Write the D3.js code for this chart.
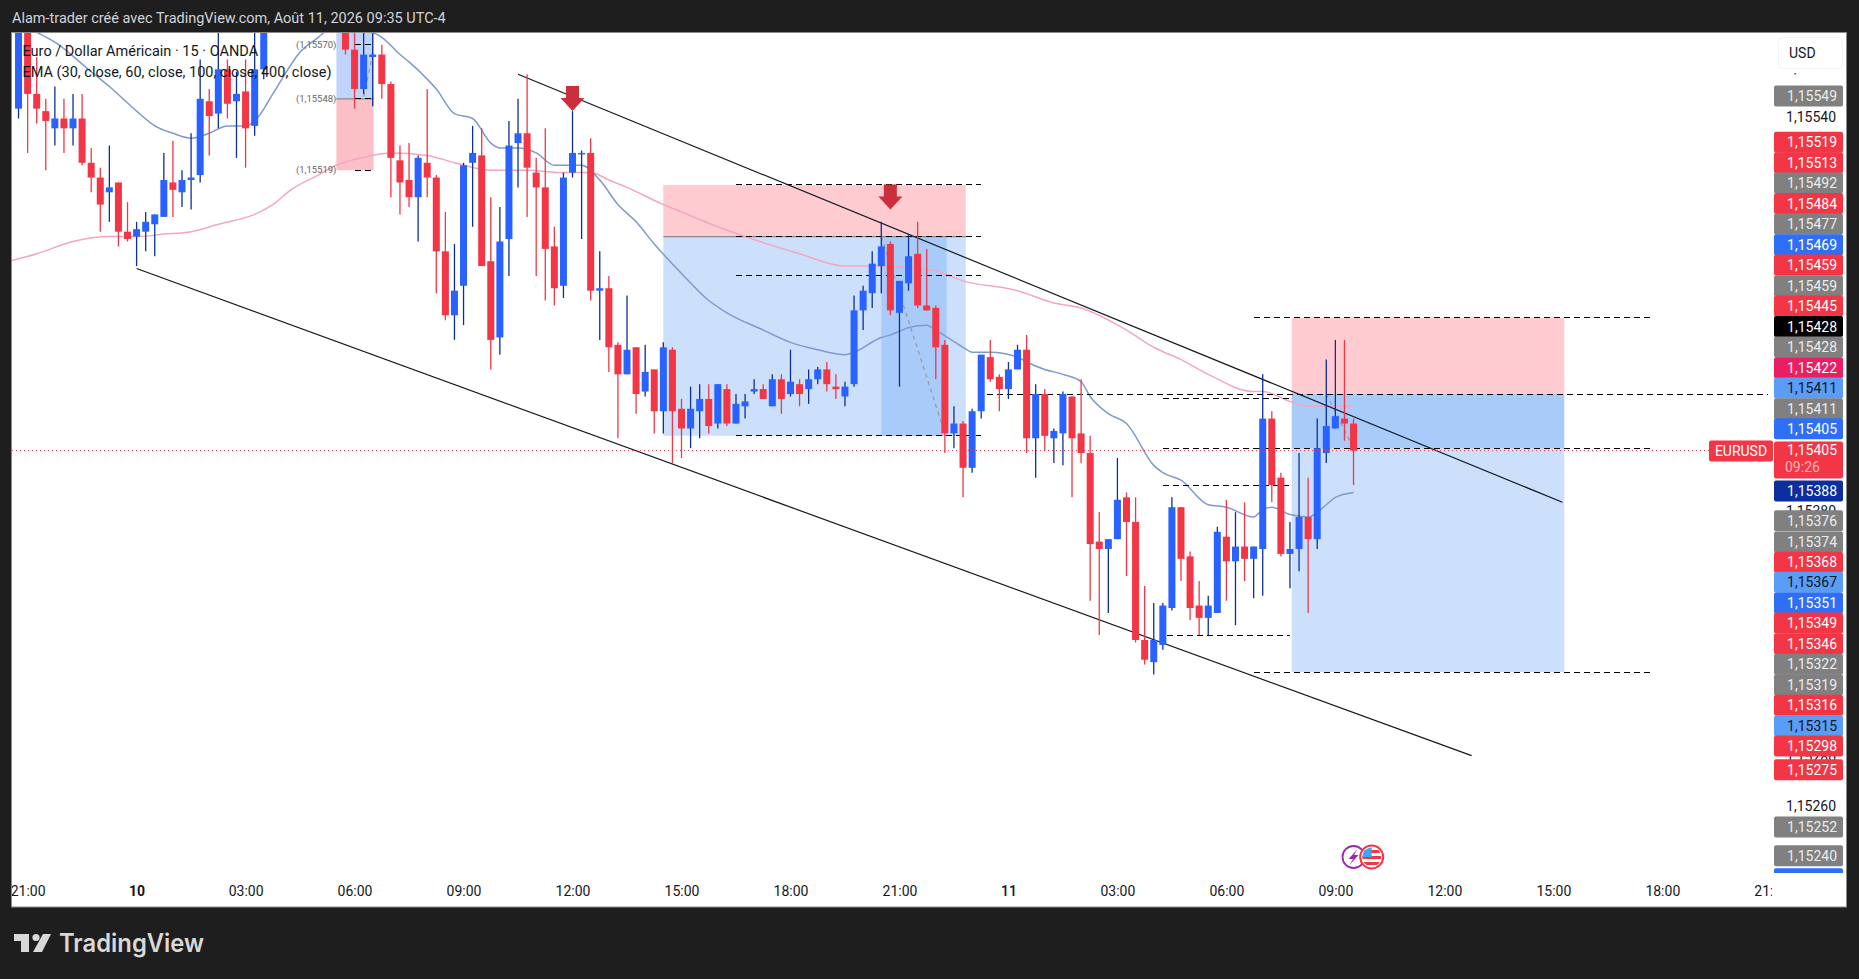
<!DOCTYPE html>
<html>
<head>
<meta charset="utf-8">
<script src="https://cdn.jsdelivr.net/npm/d3@7"></script>
<style>
  html, body { margin: 0; padding: 0; background: #1e1e1e; }
  svg { display: block; font-family: Roboto, sans-serif; }
</style>
</head>
<body>
<svg id="chart" width="1859" height="979"></svg>
<script>
// prices are kept in points: 115405 is 1,15405
const firstBar = -13;
const barOpen = [
  115544,115578,115550,115543,115536,115540,115536,115540,115522,115516,115510,115514,115494,
  115492,115494,115497,115500,115514,115510,115515,115517,115547,115542,115560,115547,115551,115537,115560,
  null,null,null,null,null,null,null,null,
  115580,115568,115552,115565,115566,115554,115523,115515,115508,115522,115516,115486,115460,115472,115522,115525,115482,115451,115491,115530,115534,115518,115512,115488,115472,115518,115526,115526,115470,115471,115448,
  115436,115447,115429,115438,115421,115446,115422,115414,115421,115426,115416,115430,115416,115423,115429,115430,115423,115434,115428,115432,115430,115434,115438,115431,115427,115432,115462,115469,115480,115489,115461,115473,115485,115464,115463,115448,115412,115416,115398,115421,115443,115435,115430,115438,
  115446,115410,115428,115410,115412,115427,115412,115404,115368,115365,115369,115386,115376,115328,115319,115326,115341,115382,115362,115342,115337,115339,115370,115360,115366,115361,115365,115418,115394,115363,115365,115378,115369,115404,115414,115418,115416
];
const barHigh = [
  115586,115582,115565,115548,115553,115548,115550,115550,115528,115520,115529,115514,115506,
  115498,115502,115501,115526,115531,115519,115534,115564,115552,115578,115564,115559,115564,115580,115586,
  null,null,null,null,null,null,null,null,
  115586,115580,115580,115580,115570,115555,115529,115530,115525,115552,115517,115502,115489,115522,115537,115536,115508,115504,115539,115548,115558,115524,115536,115496,115518,115543,115527,115532,115486,115476,115449,
  115468,115447,115448,115438,115449,115447,115426,115431,115432,115432,115432,115432,115428,115428,115434,115432,115436,115436,115446,115434,115438,115439,115441,115436,115433,115468,115472,115486,115498,115490,115474,115493,115498,115487,115464,115450,115423,115417,115422,115444,115450,115436,115441,115448,
  115452,115432,115430,115414,115429,115427,115434,115411,115380,115369,115402,115388,115386,115350,115343,115343,115386,115382,115364,115352,115346,115374,115385,115380,115384,115366,115436,115421,115396,115376,115404,115394,115418,115442,115450,115450,115418
];
const barLow = [
  115540,115526,115538,115519,115529,115526,115529,115521,115510,115494,115498,115488,115490,
  115480,115486,115484,115500,115500,115504,115503,115514,115525,115536,115540,115524,115520,115533,115556,
  null,null,null,null,null,null,null,null,
  115566,115544,115550,115545,115548,115508,115501,115504,115490,115508,115469,115458,115450,115456,115496,115480,115438,115444,115476,115512,115500,115476,115466,115464,115467,115516,115491,115466,115450,115437,115410,
  115436,115420,115427,115412,115412,115400,115402,115406,115410,115412,115414,115415,115416,115418,115428,115426,115423,115420,115427,115423,115424,115432,115429,115426,115423,115431,115454,115463,115469,115460,115431,115470,115463,115462,115434,115404,115406,115386,115396,115418,115433,115421,115426,115438,
  115404,115394,115405,115400,115399,115386,115400,115344,115330,115339,115369,115354,115327,115318,115314,115324,115340,115352,115336,115330,115330,115339,115344,115334,115352,115345,115346,115384,115362,115349,115356,115339,115365,115400,115414,115409,115391
];
const barClose = [
  115580,115550,115544,115539,115540,115536,115540,115522,115516,115505,115512,115494,115491,
  115495,115498,115501,115515,115511,115515,115516,115548,115541,115560,115546,115550,115536,115560,115580,
  null,null,null,null,null,null,null,null,
  115568,115552,115566,115566,115554,115524,115514,115508,115524,115516,115486,115460,115470,115521,115526,115480,115450,115490,115529,115534,115520,115512,115487,115471,115516,115526,115526,115470,115471,115447,115436,
  115446,115428,115437,115421,115447,115421,115414,115422,115426,115415,115432,115416,115424,115425,115430,115426,115434,115426,115433,115428,115434,115438,115432,115430,115431,115462,115470,115481,115488,115462,115474,115484,115464,115462,115447,115412,115416,115398,115421,115444,115434,115430,115438,115446,
  115410,115428,115411,115413,115428,115410,115404,115367,115365,115369,115385,115376,115328,115320,115328,115342,115382,115361,115341,115337,115342,115372,115360,115366,115361,115366,115418,115391,115363,115365,115378,115369,115406,115415,115419,115416,115405
];

const blueEmaBars = [-11,-9,-5,-3,0,2,4,6,8,10,12,13,15,16,18,20,21,22,25,26,27,29,30,32,33,35,37,39,40,42,44,46,49,51,53,55,57,60,63,65,69,72,75,78,79,82,83,85,87,88,91,92,94,97,98,100,102,104,105,107,109,112,113,115,118,120,123,124,125,127,129,131,132,134];
const blueEmaValues = [115575,115571,115559,115553,115543,115537,115534,115532,115534,115537,115537,115539,115550,115556,115567,115573,115576,115578,115577,115575,115573,115566,115563,115556,115552,115542,115540,115530,115528,115528,115526,115521,115521,115515,115505,115498,115489,115477,115466,115461,115454,115449,115446,115444,115445,115451,115452,115455,115456,115454,115447,115445,115445,115443,115441,115438,115436,115433,115427,115420,115416,115399,115396,115393,115383,115382,115378,115381,115382,115379,115378,115383,115386,115388];
const pinkEmaBars = [-14,-11,-7,-3,0,3,6,9,13,15,17,20,22,26,28,32,35,39,43,47,50,52,54,58,60,64,67,73,78,82,86,88,91,97,101,104,109,112,115,118,123,124,127,129,134];
const pinkEmaValues = [115482,115485,115490,115492,115492,115493,115494,115497,115501,115505,115511,115517,115521,115525,115526,115525,115522,115519,115519,115518,115518,115515,115512,115505,115502,115496,115492,115485,115480,115480,115479,115478,115474,115470,115465,115463,115454,115447,115442,115436,115429,115429,115425,115423,115423];

const timeBars = [-12,0,12,24,36,48,60,72,84,96,108,120,132,144,156,168,180];
const timeLabels = ["21:00","10","03:00","06:00","09:00","12:00","15:00","18:00","21:00","11","03:00","06:00","09:00","12:00","15:00","18:00","21:00"];
const priceTicks = [115560,115540,115380,115280,115260];

const tagPrices = ["1,15549","1,15519","1,15513","1,15492","1,15484","1,15477","1,15469","1,15459","1,15459","1,15445","1,15428","1,15428","1,15422","1,15411","1,15411","1,15405","1,15405","1,15388","1,15376","1,15374","1,15368","1,15367","1,15351","1,15349","1,15346","1,15322","1,15319","1,15316","1,15315","1,15298","1,15275","1,15252","1,15240","1,15209"];
const tagKinds = ["gray","red","red","gray","red","gray","blue","red","gray","red","black","gray","pink","light","gray","blue","last","navy","gray","gray","red","light","blue","red","red","gray","gray","red","light","red","red","gray","gray","blue"];
// the tags are stacked by the app so they don't sit on their real price, this is where they end up, in points
const tagStack = [115549.1,115530.3,115522,115513.8,115505.4,115497.1,115488.7,115480.4,115472,115463.8,115455.4,115447.1,115438.7,115430.4,115422,115413.9,115405.2,115388.6,115376.5,115367.8,115359.6,115351.5,115343,115334.9,115326.5,115318.1,115309.8,115301.5,115293.2,115284.9,115275.3,115252,115240.3,115231];

const zoneBars = [22,26.1, 58,91.3, 127.2,157.2];
const zonePrices = [115548,115519, 115492,115513,115411, 115428,115459,115315];
const hitStartBars = [82,127.2];
const hitEndBars = [89.2,157.2];
const hitEndPrices = [115411,115406];

const levelPrices = [115570,115548,115519,115513,115492,115476,115411,115428,115426,115406,115406,115391,115330,115459,115315];
const levelFrom = [24,24,24,66,66,66,66,93.6,113,113,123,113,113.5,123,123];
const levelTo = [26.1,26.1,26.1,93,93,93,93,179.6,127,127,167,127,127,167,167];

const trendBars = [[42,157],[0,147]];
const trendPrices = [[115558,115384],[115479,115281]];
const pathBars = [[25,26],[82,89],[131,134]];
const pathPrices = [[115549,115566],[115492,115412],[115428,115406]];
const arrowBars = [48,83];
const arrowPrices = [115543,115503];
const fibLabels = ["(1,15570)","(1,15548)","(1,15519)"];
const fibPrices = [115570,115548,115519];

const svg = d3.select("#chart");
const x = d3.scaleLinear().domain([0,120]).range([136.6,1226.4]);
const y = d3.scaleLinear().domain([115260,115540]).range([807.3,118.5]);

const blue = "#2962ff", red = "#f23645", navy = "#0b2f9c";

const defs = svg.append("defs");
defs.append("clipPath").attr("id","plot").append("rect").attr("x",12).attr("y",33).attr("width",1762).attr("height",840);
defs.append("clipPath").attr("id","tags").append("rect").attr("x",1700).attr("y",33).attr("width",145).attr("height",840);
defs.append("clipPath").attr("id","times").append("rect").attr("x",12).attr("y",870).attr("width",1760).attr("height",36);

svg.append("rect").attr("x",11.5).attr("y",32.5).attr("width",1835).attr("height",874.5)
  .attr("fill","#fff").attr("stroke","#8a8a8a");

svg.append("text").attr("x",12).attr("y",23).attr("fill","#d1d4dc").attr("font-size",14.5)
  .text("Alam-trader créé avec TradingView.com, Août 11, 2026 09:35 UTC-4");

const plot = svg.append("g").attr("clip-path","url(#plot)");

// position tools
function zone(b0,b1,top,bottom,color) {
  plot.append("rect").attr("x",x(b0)).attr("width",x(b1)-x(b0))
    .attr("y",y(top)).attr("height",y(bottom)-y(top)).attr("fill",color);
}
zone(zoneBars[0],zoneBars[1],115600,zonePrices[0],"#bfd3fb");
zone(zoneBars[0],zoneBars[1],zonePrices[0],zonePrices[1],"#fbc0c6");
zone(zoneBars[2],zoneBars[3],zonePrices[3],zonePrices[2],"#fdcbd0");
zone(zoneBars[2],zoneBars[3],zonePrices[2],zonePrices[4],"#cce0fc");
zone(zoneBars[4],zoneBars[5],zonePrices[6],zonePrices[5],"#fdcbd0");
zone(zoneBars[4],zoneBars[5],zonePrices[5],zonePrices[7],"#cce0fc");
zone(hitStartBars[0],hitEndBars[0],zonePrices[2],hitEndPrices[0],"#a9cbfa");
zone(hitStartBars[1],hitEndBars[1],zonePrices[5],hitEndPrices[1],"#a9cbfa");
[[zoneBars[0],zoneBars[1],zonePrices[0]],[zoneBars[2],zoneBars[3],zonePrices[2]]].forEach(d => {
  plot.append("line").attr("x1",x(d[0])).attr("x2",x(d[1])).attr("y1",y(d[2])).attr("y2",y(d[2]))
    .attr("stroke","#888").attr("stroke-width",1.2);
});

// EMAs
const emaLine = d3.line().x(d => x(d[0])).y(d => y(d[1])).curve(d3.curveMonotoneX);
plot.append("path").attr("d",emaLine(d3.zip(pinkEmaBars,pinkEmaValues)))
  .attr("fill","none").attr("stroke","#f3a6c2").attr("stroke-width",1.5);
plot.append("path").attr("d",emaLine(d3.zip(blueEmaBars,blueEmaValues)))
  .attr("fill","none").attr("stroke","#7f99cf").attr("stroke-width",1.5);

// dashed levels
plot.selectAll(".level").data(levelPrices).enter().append("line").attr("class","level")
  .attr("x1",(d,k) => x(levelFrom[k])).attr("x2",(d,k) => x(levelTo[k]))
  .attr("y1",d => y(d)).attr("y2",d => y(d))
  .attr("stroke","#000").attr("stroke-width",1).attr("stroke-dasharray","6 4")
  .attr("shape-rendering","crispEdges");

// gray projected paths
pathBars.forEach((b,k) => {
  plot.append("line").attr("x1",x(b[0])).attr("x2",x(b[1]))
    .attr("y1",y(pathPrices[k][0])).attr("y2",y(pathPrices[k][1]))
    .attr("stroke","#9a9a9a").attr("stroke-width",1.3).attr("stroke-dasharray","4 4");
});

// channel
trendBars.forEach((b,k) => {
  plot.append("line").attr("x1",x(b[0])).attr("x2",x(b[1]))
    .attr("y1",y(trendPrices[k][0])).attr("y2",y(trendPrices[k][1]))
    .attr("stroke","#131722").attr("stroke-width",1.2);
});

// candles
const bars = barOpen.map((o,k) => ({ i: firstBar+k, o, h: barHigh[k], l: barLow[k], c: barClose[k] }))
  .filter(d => d.o !== null);
const candle = plot.selectAll(".bar").data(bars).enter().append("g").attr("class","bar");
candle.append("line")
  .attr("x1",d => x(d.i)).attr("x2",d => x(d.i))
  .attr("y1",d => y(d.h)).attr("y2",d => y(d.l))
  .attr("stroke",d => d.c >= d.o ? navy : red).attr("stroke-width",1.3);
candle.append("rect")
  .attr("x",d => x(d.i)-3.5).attr("width",7)
  .attr("y",d => y(Math.max(d.o,d.c)))
  .attr("height",d => Math.max(1.5,Math.abs(y(d.o)-y(d.c))))
  .attr("fill",d => d.c >= d.o ? blue : red);

// down arrows
arrowBars.forEach((b,k) => {
  plot.append("path")
    .attr("transform",`translate(${x(b)},${y(arrowPrices[k])})`)
    .attr("d","M0 0L-12 -13L-6.5 -13L-6.5 -25L6.5 -25L6.5 -13L12 -13Z")
    .attr("fill","#cc2f3c");
});

// small labels of the first tool
plot.selectAll(".fib").data(fibPrices).enter().append("text").attr("class","fib")
  .attr("x",x(22)).attr("y",d => y(d)+3).attr("text-anchor","end")
  .attr("font-size",9.5).attr("fill","#666")
  .text((d,k) => fibLabels[k]);

// current price line
plot.append("line").attr("x1",12).attr("x2",1709).attr("y1",y(115405)).attr("y2",y(115405))
  .attr("stroke",red).attr("stroke-width",1).attr("stroke-dasharray","1 3");

// legend
svg.append("text").attr("x",22.5).attr("y",56).attr("font-size",14.5).attr("fill","#131722")
  .text("Euro / Dollar Américain · 15 · OANDA");
svg.append("text").attr("x",22.5).attr("y",77).attr("font-size",14.5).attr("fill","#131722")
  .text("EMA (30, close, 60, close, 100, close, 400, close)");

// time axis
const timeAxis = d3.axisBottom(x).tickValues(timeBars).tickSize(0).tickPadding(0)
  .tickFormat(d => timeLabels[timeBars.indexOf(d)]);
const tg = svg.append("g").attr("clip-path","url(#times)").append("g")
  .attr("transform","translate(0,886)").call(timeAxis);
tg.select(".domain").remove();
tg.selectAll("text").attr("font-size",14).attr("font-family","Roboto").attr("fill","#131722")
  .attr("font-weight",d => d === 0 ? 700 : d === 96 ? 500 : 400);

// price axis
const priceAxis = d3.axisRight(y).tickValues(priceTicks).tickSize(0).tickPadding(0)
  .tickFormat(d => "1," + String(d).slice(1));
const pg = svg.append("g").attr("transform","translate(1836,0)").call(priceAxis);
pg.select(".domain").remove();
pg.selectAll("text").attr("font-size",14).attr("font-family","Roboto").attr("fill","#131722")
  .attr("text-anchor","end").attr("dy","0.22em");

// USD button, the white under it hides the tick behind except the comma tail
svg.append("rect").attr("x",1778).attr("y",37).attr("width",65).attr("height",36).attr("fill","#fff");
svg.append("rect").attr("x",1778.5).attr("y",37.5).attr("width",64).attr("height",31).attr("rx",4)
  .attr("fill","#fff").attr("stroke","#f0f3fa");
svg.append("text").attr("x",1789).attr("y",58).attr("font-size",14).attr("fill","#131722").text("USD");

// price tags
const tagColor = { gray:"#808080", red:red, blue:"#2f6ff5", black:"#000", pink:"#e91e63", light:"#5b9cf6", navy:"#0b2f9c", last:red };
const tagG = svg.append("g").attr("clip-path","url(#tags)");
tagPrices.forEach((t,k) => {
  const kind = tagKinds[k], cy = y(tagStack[k]);
  const last = kind === "last";
  tagG.append("rect").attr("x",1774).attr("y",cy-(last ? 8.5 : 10.5)).attr("width",69).attr("height",last ? 37 : 21).attr("rx",2)
    .attr("fill",tagColor[kind]);
  tagG.append("text").attr("x",1837).attr("y",cy+5).attr("text-anchor","end").attr("font-size",14)
    .attr("fill",kind === "light" ? "#131722" : kind === "gray" ? "#ececec" : "#fff").text(t);
  if (last) {
    tagG.append("text").attr("x",1785).attr("y",cy+22).attr("font-size",14).attr("fill","#fbb4ba").text("09:26");
  }
});

// symbol tag
svg.append("rect").attr("x",1709).attr("y",y(115405)-10).attr("width",64).attr("height",21).attr("rx",2).attr("fill",red);
svg.append("text").attr("x",1741).attr("y",y(115405)+5).attr("text-anchor","middle").attr("font-size",14)
  .attr("fill","#fff").text("EURUSD");

// event icons
const cy = 857;
const ev1 = svg.append("g").attr("transform",`translate(${x(134)},${cy})`);
ev1.append("circle").attr("r",11).attr("fill","#fff").attr("stroke","#9c27b0").attr("stroke-width",1.8);
ev1.append("path").attr("d","M4 -8L-5 2L-0.5 2L-4 8L5 -2L0.5 -2Z").attr("fill","#9c27b0");
const ev2 = svg.append("g").attr("transform",`translate(${x(136)},${cy})`);
ev2.append("circle").attr("r",11.5).attr("fill","#fff").attr("stroke",red).attr("stroke-width",2);
defs.append("clipPath").attr("id","flag").append("circle").attr("r",9.5);
const flag = ev2.append("g").attr("clip-path","url(#flag)");
[-7,-1,5].forEach(v => flag.append("rect").attr("x",-10).attr("y",v).attr("width",20).attr("height",3).attr("fill",red));
flag.append("rect").attr("x",-10).attr("y",-10).attr("width",10).attr("height",10).attr("fill","#42a5f5");

// logo
const logo = svg.append("g").attr("fill","#d9d9d9");
logo.append("path").attr("d","M14 934H29V952H21V941H14Z");
logo.append("circle").attr("cx",36).attr("cy",937.5).attr("r",3.6);
logo.append("path").attr("d","M43 934H51L42 952H33Z");
svg.append("text").attr("x",59).attr("y",952).attr("font-family","Inter").attr("font-size",25)
  .attr("font-weight",600).attr("fill","#d9d9d9").attr("textLength",145).attr("lengthAdjust","spacingAndGlyphs").text("TradingView");
</script>
</body>
</html>
